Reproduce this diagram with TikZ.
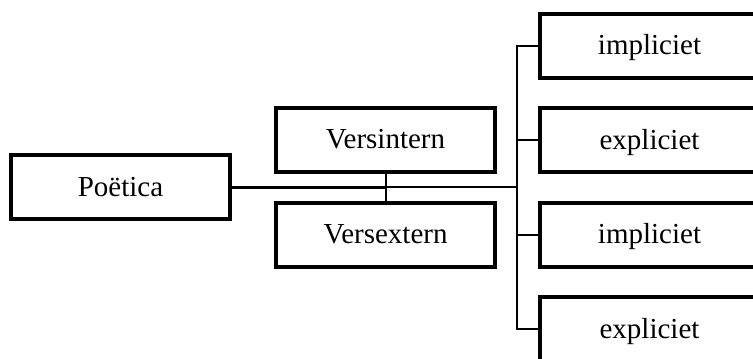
\documentclass[tikz,border=0pt]{standalone}
\usepackage{fontspec}
\setmainfont{Liberation Serif}
\usepackage{tikz}

\begin{document}
\begin{tikzpicture}[x=1pt,y=1pt,
  box/.style={draw,line width=4pt,minimum width=219pt,minimum height=64pt,
    inner sep=0pt,text height=19pt,text depth=1pt,
    font=\fontsize{29}{34}\selectfont},
  link/.style={line width=2pt}]
  \useasboundingbox (0,0) rectangle (753,359);

  %left part
  \node[box] (poetica) at (120.5,171.5) {Poëtica};
  \node[box] (versintern) at (385.5,219) {Versintern};
  \node[box] (versextern) at (385.5,124) {Versextern};

  %right column
  \foreach \y/\name/\txt in {313/impl1/impliciet,218.5/expl1/expliciet,
                             124/impl2/impliciet,29.5/expl2/expliciet} {
    \node[box] (\name) at (649.5,\y) {\txt};
  }

  %connectors
  \coordinate (split) at (385.5,171.5);
  \coordinate (bus) at (517,171.5);
  \draw[line width=3pt] (poetica.east) -- (split);
  \draw[link] (split) -- (bus);
  \draw[link] (versintern.south) -- (versextern.north);
  \draw[link] (impl1.west) -- (bus |- impl1.west) -- (bus |- expl2.west) -- (expl2.west);
  \foreach \name in {expl1,impl2} {
    \draw[link] (bus |- \name.west) -- (\name.west);
  }
\end{tikzpicture}
\end{document}
